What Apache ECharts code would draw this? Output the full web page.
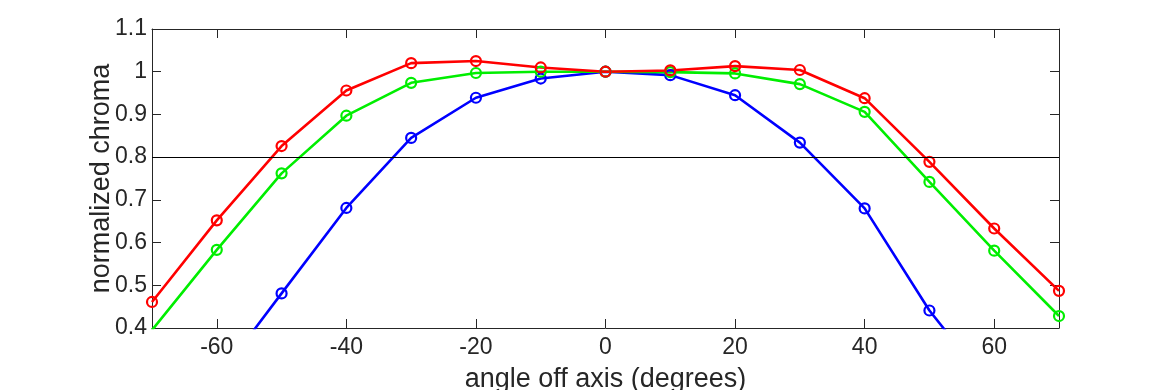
<!DOCTYPE html>
<html><head><meta charset="utf-8">
<script src="https://cdn.jsdelivr.net/npm/echarts@6/dist/echarts.min.js"></script>
<style>html,body{margin:0;padding:0;background:#fff}#c{width:1170px;height:390px}</style>
</head><body><div id="c"></div>
<script>
const angles = [-70,-60,-50,-40,-30,-20,-10,0,10,20,30,40,50,60,70];
const redValues   = [0.461,0.652,0.826,0.956,1.020,1.025,1.010,1.000,1.003,1.013,1.004,0.938,0.789,0.633,0.487];
const greenValues = [0.395,0.583,0.762,0.897,0.974,0.997,1.000,1.000,0.999,0.996,0.971,0.906,0.742,0.581,0.428];
const blueValues  = [0.08,0.28,0.481,0.681,0.845,0.939,0.984,1.000,0.992,0.945,0.834,0.680,0.441,0.25,0.06];
const xTicks = [-60,-40,-20,0,20,40,60];
const yTicks = [0.4,0.5,0.6,0.7,0.8,0.9,1,1.1];
const threshold = 0.8;

const font = '"Liberation Sans", Arial, Helvetica, sans-serif';
const txt = '#262626';
function pts(v){ return angles.map((a,i)=>[a,v[i]]); }
function ser(name,color,vals,extra){
  return Object.assign({
    name, type:'line', data:pts(vals), clip:true,
    symbol:'circle', symbolSize:10, showSymbol:true,
    lineStyle:{color, width:2.6},
    itemStyle:{color:'rgba(255,255,255,0)', borderColor:color, borderWidth:2.2},
    emphasis:{disabled:true}, animation:false, z:3
  }, extra||{});
}
const chart = echarts.init(document.getElementById('c'));
chart.setOption({
  animation:false,
  grid:{left:152, top:29, width:907, height:299, show:false, containLabel:false, outerBoundsMode:'none'},
  xAxis:[{
    type:'value', min:-70, max:70, position:'bottom',
    name:'angle off axis (degrees)', nameLocation:'middle', nameGap:38, nameMoveOverlap:false,
    nameTextStyle:{fontFamily:font, fontSize:27, color:txt},
    axisLine:{show:true, onZero:false, lineStyle:{color:txt, width:1}},
    axisTick:{show:true, inside:true, length:9, customValues:xTicks, lineStyle:{color:txt}},
    axisLabel:{customValues:xTicks, fontFamily:font, fontSize:23, color:txt, margin:8},
    splitLine:{show:false}
  },{
    type:'value', min:-70, max:70, position:'top',
    axisLine:{show:true, onZero:false, lineStyle:{color:txt, width:1}},
    axisTick:{show:true, inside:true, length:9, customValues:xTicks, lineStyle:{color:txt}},
    axisLabel:{show:false}, splitLine:{show:false}
  }],
  yAxis:[{
    type:'value', min:0.4, max:1.1, position:'left',
    name:'normalized chroma', nameLocation:'middle', nameGap:37, nameRotate:90, nameMoveOverlap:false,
    nameTextStyle:{fontFamily:font, fontSize:27, color:txt},
    axisLine:{show:true, onZero:false, lineStyle:{color:txt, width:1}},
    axisTick:{show:true, inside:true, length:9, customValues:yTicks, lineStyle:{color:txt}},
    axisLabel:{customValues:yTicks, fontFamily:font, fontSize:23, color:txt, margin:5,
      formatter:v=>String(Math.round(v*10)/10)},
    splitLine:{show:false}
  },{
    type:'value', min:0.4, max:1.1, position:'right',
    axisLine:{show:true, onZero:false, lineStyle:{color:txt, width:1}},
    axisTick:{show:true, inside:true, length:9, customValues:yTicks, lineStyle:{color:txt}},
    axisLabel:{show:false}, splitLine:{show:false}
  }],
  series:[
    ser('blue','#0000ff',blueValues),
    ser('green','#00ee00',greenValues),
    ser('red','#ff0000',redValues,{
      markLine:{silent:true, symbol:'none', label:{show:false},
        lineStyle:{color:'#000', width:1.2, type:'solid'},
        data:[{yAxis:threshold}]}
    })
  ]
});
</script></body></html>
